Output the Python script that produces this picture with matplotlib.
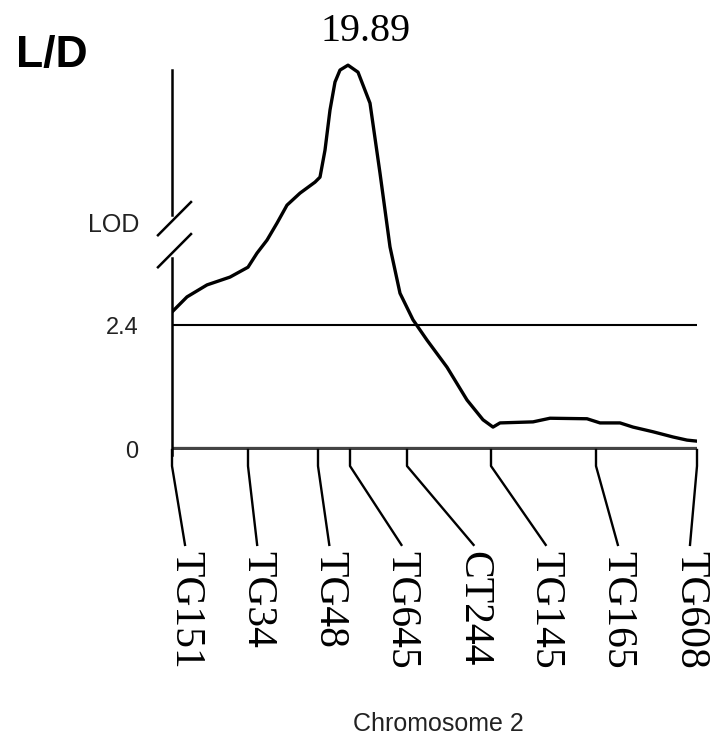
import numpy as np
import matplotlib
matplotlib.use("Agg")
import matplotlib.pyplot as plt

# LOD profile along chromosome 2 (position in cM, LOD score)
pos = [0, 3, 7, 11.6, 15.2, 17, 19, 21, 23, 25.6, 28.6, 29.6, 30.6, 31.6, 32.6,
       33.6, 35.2, 37.2, 39.6, 41.6, 43.6, 45.6, 48.2, 51, 55, 59, 62.2, 64.2,
       65.6, 72.2, 75.6, 83, 85.6, 89.6, 92.2, 96.2, 100.2, 103, 105]
lod = [2.65, 2.94, 3.17, 3.32, 3.51, 3.78, 4.14, 5.67, 7.29, 8.37, 9.36, 9.81,
       12.24, 15.85, 18.37, 19.45, 19.89, 19.26, 16.47, 10.17, 3.90, 3.01, 2.50,
       2.11, 1.59, 0.96, 0.58, 0.44, 0.52, 0.54, 0.61, 0.60, 0.52, 0.52, 0.44,
       0.35, 0.25, 0.19, 0.17]

markers = ["TG151", "TG34", "TG48", "TG645", "CT244", "TG145", "TG165", "TG608"]
marker_pos = [0, 15.2, 29.2, 35.6, 47, 63.8, 84.8, 105]
threshold = 2.4
peak = 19.89

# broken y axis: linear up to 4, compressed above
brk, k = 4.0, 0.2133


def fwd(v):
    v = np.asarray(v, dtype=float)
    return np.where(v <= brk, v, brk + (v - brk) * k)


def inv(u):
    u = np.asarray(u, dtype=float)
    return np.where(u <= brk, u, brk + (u - brk) / k)


fig = plt.figure(figsize=(7.11, 7.37), dpi=100)
ax = fig.add_axes([172 / 711, 287 / 737, 525 / 711, 390.5 / 737])
ax.set_yscale("function", functions=(fwd, inv))
ax.set_xlim(0, 105)
ax.set_ylim(0, 20.4)

ax.plot(pos, lod, color="black", lw=2.4, solid_joinstyle="round")
ax.axhline(threshold, color="black", lw=1.5)
ax.axhline(0, color="#444444", lw=4.5)

ax.annotate("%.2f" % peak, xy=(pos[lod.index(peak)], peak), xytext=(13, 11),
            textcoords="offset points", ha="center", va="bottom",
            family="Liberation Serif", fontsize=29)

for s in ax.spines.values():
    s.set_visible(False)
ax.set_xticks([])
ax.set_yticks([0, threshold], ["0", "2.4"])
ax.tick_params(axis="y", length=0, pad=24, labelsize=17, labelcolor="#222222")
for t in ax.get_yticklabels():
    t.set_family("Liberation Sans")

# y axis with break marks
tr = ax.get_xaxis_transform()
ax.plot([0, 0], [-0.013, 0.492], transform=tr, color="black", lw=1.8, clip_on=False)
ax.plot([0, 0], [0.602, 0.973], transform=tr, color="black", lw=1.8, clip_on=False)
for y0 in (0.468, 0.55):
    ax.plot([-0.0267, 0.0362], [y0, y0 + 0.085], transform=ax.transAxes,
            color="black", lw=1.8, clip_on=False)
ax.text(-0.063, 0.576, "LOD", transform=ax.transAxes, ha="right", va="center",
        family="Liberation Sans", fontsize=18, color="#222222")

# marker connectors and labels
label_x = np.linspace(2.6, 103.6, len(markers))
for name, mx, lx in zip(markers, marker_pos, label_x):
    ax.plot([mx, mx, lx], [0, -0.041, -0.243], transform=tr, color="black",
            lw=1.7, clip_on=False)
    ax.text(lx, -0.258, name, transform=tr, rotation=270, ha="center", va="top",
            family="Liberation Serif", fontsize=30)

fig.text(16 / 711, 1 - 55 / 737, "L/D", ha="left", va="center",
         family="Liberation Sans", weight="bold", fontsize=32)
fig.text(438 / 711, 1 - 724 / 737, "Chromosome 2", ha="center", va="center",
         family="Liberation Sans", fontsize=18, color="#222222")

fig.savefig("out.png", dpi=100)
